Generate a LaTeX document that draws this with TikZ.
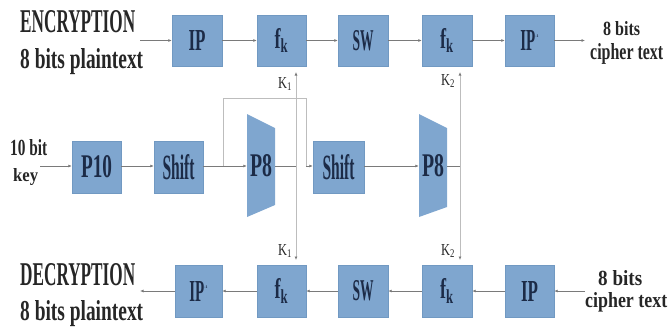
\documentclass[tikz,border=0pt]{standalone}
\usepackage{fontspec}
\setmainfont{Liberation Serif}
\usepackage{graphicx}
\usetikzlibrary{arrows.meta}
\definecolor{boxfill}{HTML}{7FA6CF}
\definecolor{boxline}{HTML}{7199C2}
\definecolor{boxtext}{HTML}{1C2B47}
\definecolor{labtext}{HTML}{262626}
\definecolor{wire}{HTML}{7A7A7A}
\definecolor{keywire}{HTML}{BDBDBD}
\newcommand{\rt}[3]{\resizebox{#1pt}{#2pt}{\bfseries #3}}
\newcommand{\rtm}[3]{\resizebox{#1pt}{#2pt}{#3}}
\begin{document}
\begin{tikzpicture}[x=1pt,y=-1pt,
  box/.style={fill=boxfill,draw=boxline,line width=0.4pt,inner sep=0pt,text=boxtext,minimum height=51pt},
  lab/.style={inner sep=0pt,anchor=base west,text=labtext},
  klab/.style={inner sep=0pt,text=labtext},
  arr/.style={draw=wire,line width=0.7pt,-{Latex[length=3.5pt,width=3pt]}},
  wireline/.style={draw=wire,line width=0.7pt},
  keyline/.style={draw=keywire,line width=0.9pt},
  keyarr/.style={draw=keywire,line width=0.9pt,-{Latex[length=3.5pt,width=3pt,color=wire]}}]
\useasboundingbox (0,0) rectangle (668,330);

% ---------- texts ----------
\node[lab] (enc) at (20,32) {\rt{115}{22}{ENCRYPTION}};
\node[lab] (pt1) at (20,68) {\rt{123}{20}{8 bits plaintext}};
\node[lab] (ct1a) at (603,35) {\rt{37}{14}{8 bits}};
\node[lab] (ct1b) at (590,59) {\rt{73}{16}{cipher text}};
\node[lab] (kin1) at (10,155) {\rt{37}{16}{10 bit}};
\node[lab] (kin2) at (13,181) {\rt{25}{13}{key}};
\node[lab] (dec) at (20,285) {\rt{115}{22}{DECRYPTION}};
\node[lab] (pt2) at (20,320) {\rt{123}{20}{8 bits plaintext}};
\node[lab] (ct2a) at (598,285) {\rt{44}{15}{8 bits}};
\node[lab] (ct2b) at (585,307) {\rt{82}{15}{cipher text}};

% ---------- top row ----------
\node[box,minimum width=50pt] (ip1) at (197,40.5) {\rt{17}{20}{IP}};
\node[box,minimum width=49pt] (fk1) at (281.5,40.5) {\rt{14}{20}{f\textsubscript{k}}};
\node[box,minimum width=50pt] (sw1) at (363,40.5) {\rt{21}{20}{SW}};
\node[box,minimum width=50pt] (fk2) at (447,40.5) {\rt{14}{20}{f\textsubscript{k}}};
\node[box,minimum width=49pt] (ipi1) at (529.5,40.5) {\rt{15}{20}{IP}\raisebox{13pt}{\fontsize{4}{4}\selectfont\bfseries -1}};

% ---------- middle row ----------
\node[box,minimum width=49pt,minimum height=52pt] (p10) at (96.5,167) {\rt{31}{22}{P10}};
\node[box,minimum width=49pt,minimum height=52pt] (sh1) at (178.5,167) {\rt{32}{25}{Shift}};
\node[box,minimum width=51pt,minimum height=52pt] (sh2) at (338.5,167) {\rt{32}{25}{Shift}};
\fill[boxfill] (247,114) -- (275,128) -- (275,205) -- (247,217) -- cycle;
\node[inner sep=0pt,minimum width=28pt,minimum height=2pt,text=boxtext] (p8a) at (261,166) {\rt{22}{22}{P8}};
\fill[boxfill] (419,114) -- (447,128) -- (447,207) -- (419,217) -- cycle;
\node[inner sep=0pt,minimum width=28pt,minimum height=2pt,text=boxtext] (p8b) at (433,166) {\rt{22}{22}{P8}};

% ---------- bottom row ----------
\node[box,minimum width=47pt,minimum height=52pt] (ipi2) at (198.5,291) {\rt{15}{20}{IP}\raisebox{13pt}{\fontsize{4}{4}\selectfont\bfseries -1}};
\node[box,minimum width=49pt,minimum height=52pt] (fk3) at (281.5,291) {\rt{14}{20}{f\textsubscript{k}}};
\node[box,minimum width=50pt,minimum height=52pt] (sw2) at (363,291) {\rt{21}{20}{SW}};
\node[box,minimum width=50pt,minimum height=52pt] (fk4) at (447,291) {\rt{14}{20}{f\textsubscript{k}}};
\node[box,minimum width=49pt,minimum height=52pt] (ip2) at (529.5,291) {\rt{17}{20}{IP}};

% ---------- key labels ----------
\node[klab] (k1t) at (285,84) {\rtm{14}{11}{K\textsubscript{1}}};
\node[klab] (k1b) at (285,251) {\rtm{14}{11}{K\textsubscript{1}}};
\node[klab] (k2t) at (448,81) {\rtm{14}{11}{K\textsubscript{2}}};
\node[klab] (k2b) at (448,251) {\rtm{14}{11}{K\textsubscript{2}}};

% ---------- coordinates ----------
\coordinate (encin) at (140,40.5);
\coordinate (encout) at (585,40.5);
\coordinate (keyin) at (40,166);
\coordinate (decin) at (585,291);
\coordinate (decout) at (140,291);
\coordinate (k1m) at (296,166);
\coordinate (k1top) at (296,72);
\coordinate (k1bot) at (296,260);
\coordinate (k2m) at (460,166);
\coordinate (k2top) at (460,72);
\coordinate (k2bot) at (460,260);
\coordinate (br0) at (223,166);
\coordinate (br1) at (223,98);
\coordinate (br2) at (306,98);
\coordinate (br3) at (306,166);

% ---------- key wires ----------
\draw[keyline] (br0) -- (br1) -- (br2) -- (br3);
\draw[keyarr] (k1m) -- (k1top);
\draw[keyarr] (k1m) -- (k1bot);
\draw[keyarr] (k2m) -- (k2top);
\draw[keyarr] (k2m) -- (k2bot);

% ---------- top connectors ----------
\draw[arr] (encin) -- (ip1.west);
\draw[arr] (ip1.east) -- (fk1.west);
\draw[arr] (fk1.east) -- (sw1.west);
\draw[arr] (sw1.east) -- (fk2.west);
\draw[arr] (fk2.east) -- (ipi1.west);
\draw[arr] (ipi1.east) -- (encout);

% ---------- middle connectors ----------
\draw[arr] (keyin) -- (keyin -| p10.west);
\draw[arr] (p10.east |- keyin) -- (sh1.west |- keyin);
\draw[arr] (sh1.east |- keyin) -- (p8a.west);
\draw[wireline] (p8a.east) -- (k1m);
\draw[arr] (br3) -- (sh2.west |- br3);
\draw[arr] (sh2.east |- keyin) -- (p8b.west);
\draw[wireline] (p8b.east) -- (k2m);

% ---------- bottom connectors ----------
\draw[arr] (decin) -- (ip2.east);
\draw[arr] (ip2.west) -- (fk4.east);
\draw[arr] (fk4.west) -- (sw2.east);
\draw[arr] (sw2.west) -- (fk3.east);
\draw[arr] (fk3.west) -- (ipi2.east);
\draw[arr] (ipi2.west) -- (decout);
\end{tikzpicture}
\end{document}
